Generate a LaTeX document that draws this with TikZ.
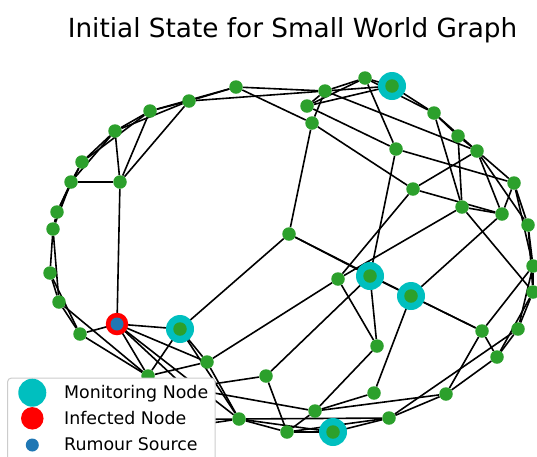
\documentclass[tikz,border=0pt]{standalone}
\usepackage{fontspec}
\setmainfont{DejaVu Sans}
\pgfdeclarelayer{edges}
\pgfdeclarelayer{front}
\pgfsetlayers{edges,main,front}
\definecolor{nodegreen}{HTML}{2CA02C}
\definecolor{moncyan}{HTML}{00BFBF}
\definecolor{srcblue}{HTML}{1F77B4}
\definecolor{legframe}{HTML}{CCCCCC}
\tikzset{
  gnode/.style={circle, fill=nodegreen, inner sep=0pt, minimum size=13.5pt},
  monnode/.style={circle, fill=moncyan, inner sep=0pt, minimum size=28pt},
  infnode/.style={circle, fill=red, inner sep=0pt, minimum size=22.5pt},
  srcnode/.style={circle, fill=srcblue, inner sep=0pt, minimum size=13pt},
  link/.style={black, line width=1.6pt},
  legtext/.style={anchor=base west, inner sep=0pt, font=\fontsize{17.4}{20}\selectfont},
}
\begin{document}
\begin{tikzpicture}[x=1pt, y=-1pt]
\useasboundingbox (0,0) rectangle (537,456);
\clip (0,0) rectangle (537,456);

% title
\node[anchor=base, inner sep=0pt, font=\fontsize{26.3}{30}\selectfont] (title) at (292.5,37) {Initial State for Small World Graph};

% monitoring rings and the infected ring
\node[monnode] (mM) at (180,329) {};
\node[monnode] (mU) at (333,432) {};
\node[monnode] (mm) at (392,86) {};
\node[monnode] (mt) at (370,276) {};
\node[monnode] (mu) at (411,296) {};
\node[infnode] (iR) at (117,324) {};

% graph nodes
\foreach \n/\x/\y in {
  A/236/87, B/189/101, C/150/111, D/115/131, E/82/162, F/71/182, G/120/182,
  H/57/212, I/53/229, J/50/273, K/59/302, L/80/334, M/180/329,
  N/207/362, O/148/376, P/239/419, Q/266/376, S/287/432, T/315/411, U/333/432,
  V/374/393, W/389/418, X/446/394, Y/497/357, Z/482/331, a/518/329, b/533/292,
  c/533/266, d/528/225, e/502/214, f/514/183, g/462/207, h/477/151, i/458/136,
  j/434/113, k/396/149, l/413/189, m/392/86, n/365/78, o/325/91, p/307/106,
  q/312/123, r/289/234, s/338/279, t/370/276, u/411/296, v/377/346,
  hC/186/388, hD/130/420, hE/95/440}
  \node[gnode] (\n) at (\x,\y) {};
\node[srcnode] (R) at (117,324) {};

% edges
\begin{pgfonlayer}{edges}
\foreach \s/\e in {
  A/B, A/C, A/o, A/q, B/C, B/D, B/o, B/G, C/D, C/E, C/G, D/E, D/F, D/G,
  E/F, E/H, F/H, F/I, F/G, H/I, I/J, I/K, J/K, J/L, K/L, K/O, L/O, L/R,
  G/R, R/M, R/O, R/N, R/P, R/hC, M/r, M/O, M/N, M/P, N/P, N/s, N/O,
  O/hD, O/hE, hD/hE, hD/P, hE/P, hC/Q, hC/T, Q/S, Q/t,
  P/S, P/U, P/W, S/U, S/T, S/W, T/V, T/X, T/v, U/W, V/u,
  W/X, W/a, X/Y, X/Z, Y/Z, Y/a, Y/b, Z/c, Z/u, a/b, a/c, b/c, b/d,
  c/d, c/f, d/f, d/h, e/f, e/g, e/h, e/u, g/i, g/j, g/s, g/b,
  f/k, f/h, h/i, h/j, h/l, h/o, i/j, j/m, j/n, k/n, k/p, k/t,
  l/s, l/q, l/e, m/n, m/p, m/o, n/o, n/p, o/p, o/q, q/r,
  r/t, r/u, t/u, t/v, s/v, u/Z}
  \draw[link] (\s) -- (\e);
\end{pgfonlayer}

% legend
\begin{pgfonlayer}{front}
\draw[legframe, fill=white, line width=1pt, rounded corners=4pt] (7.5,378) rectangle (215,470);
\node[monnode] (legmon) at (32.3,392.7) {};
\node[infnode] (leginf) at (32.3,418.3) {};
\node[srcnode] (legsrc) at (32.3,445) {};
\node[legtext] (legmontext) at (64,398.3) {Monitoring Node};
\node[legtext] (leginftext) at (64,424.3) {Infected Node};
\node[legtext] (legsrctext) at (64,450) {Rumour Source};
\end{pgfonlayer}
\end{tikzpicture}
\end{document}
